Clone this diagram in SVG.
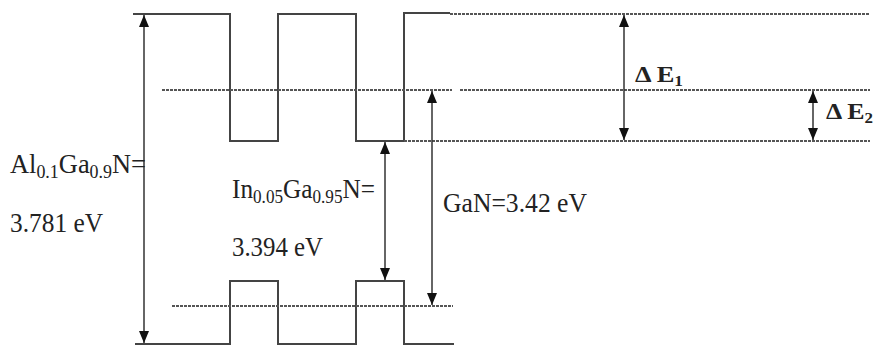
<svg xmlns="http://www.w3.org/2000/svg" width="874" height="346" viewBox="0 0 874 346">
<style>
.band{fill:none;stroke:#444;stroke-width:2}
.dot{fill:none;stroke:#555;stroke-width:1.8;stroke-dasharray:3 1}
.arr{fill:none;stroke:#333;stroke-width:1.5;marker-start:url(#ah);marker-end:url(#ah)}
.t{font-family:"Liberation Serif","Times New Roman",serif;font-size:28px;fill:#222}
.b{font-family:"Liberation Serif","Times New Roman",serif;font-size:23px;font-weight:bold;fill:#222}
</style>
<defs>
<marker id="ah" viewBox="0 0 12 10" refX="12" refY="5" markerWidth="12" markerHeight="10" markerUnits="userSpaceOnUse" orient="auto-start-reverse">
<path d="M0,0 L12,5 L0,10 Z" fill="#111"/>
</marker>
</defs>
<g id="bands">
<path class="band" d="M133,14 H230 V141 H278 V14 H356 V141 H404 V13 H450"/>
<path class="band" d="M135,344 H230 V281 H278 V344 H356 V281 H404 V344 H454"/>
<path class="dot" d="M450,14 H870"/>
<path class="dot" d="M162,90 H452 M460,90 H870"/>
<path class="dot" d="M404,141 H870"/>
<path class="dot" d="M172,306 H453"/>
</g>
<g id="connectors">
<line class="arr" x1="144" y1="15" x2="144" y2="343"/>
<line class="arr" x1="385" y1="142" x2="385" y2="280"/>
<line class="arr" x1="432" y1="91" x2="432" y2="305"/>
<line class="arr" x1="624" y1="15" x2="624" y2="140"/>
<line class="arr" x1="813" y1="91" x2="813" y2="140"/>
</g>
<g id="label-algan">
<text class="t" x="10" y="173" textLength="136" lengthAdjust="spacingAndGlyphs">Al<tspan font-size="19" dy="5">0.1</tspan><tspan dy="-5">Ga</tspan><tspan font-size="19" dy="5">0.9</tspan><tspan dy="-5">N=</tspan></text>
<text class="t" x="10" y="232" textLength="93" lengthAdjust="spacingAndGlyphs">3.781 eV</text>
</g>
<g id="label-ingan">
<text class="t" x="232" y="198" textLength="143" lengthAdjust="spacingAndGlyphs">In<tspan font-size="19" dy="5">0.05</tspan><tspan dy="-5">Ga</tspan><tspan font-size="19" dy="5">0.95</tspan><tspan dy="-5">N=</tspan></text>
<text class="t" x="232" y="256" textLength="91" lengthAdjust="spacingAndGlyphs">3.394 eV</text>
</g>
<g id="label-gan">
<text class="t" x="443" y="212" textLength="144" lengthAdjust="spacingAndGlyphs">GaN=3.42 eV</text>
</g>
<g id="label-de1">
<text class="b" x="635" y="82" textLength="48" lengthAdjust="spacingAndGlyphs">Δ E<tspan font-size="15" dy="4">1</tspan></text>
</g>
<g id="label-de2">
<text class="b" x="826" y="119" textLength="47" lengthAdjust="spacingAndGlyphs">Δ E<tspan font-size="15" dy="4">2</tspan></text>
</g>
</svg>
